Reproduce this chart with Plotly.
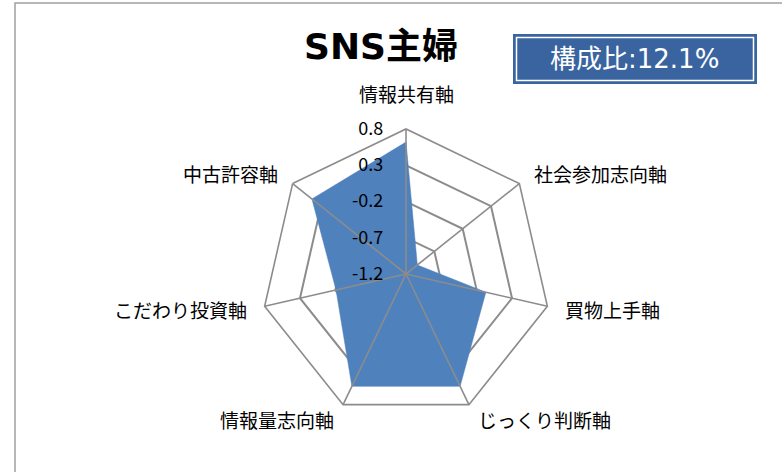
import math
import plotly.graph_objects as go

categories = ["情報共有軸", "社会参加志向軸", "買物上手軸", "じっくり判断軸",
              "情報量志向軸", "こだわり投資軸", "中古許容軸"]
values = [0.62, -1.0, -0.07, 0.52, 0.52, -0.21, 0.46]
radial_ticks = [-1.2, -0.7, -0.2, 0.3, 0.8]
title_text = "SNS主婦"
ratio_text = "構成比:12.1%"

W, H = 782, 472
FONT = "Noto Sans CJK JP"
WIDE = "DejaVu Sans, Noto Sans CJK JP"
GRID = "#8c8c8c"
FILL = "#4F81BD"
RMIN, RMAX = radial_ticks[0], radial_ticks[-1]

fig = go.Figure()
fig.add_trace(go.Scatterpolar(
    r=values + values[:1],
    theta=categories + categories[:1],
    mode="lines",
    fill="toself",
    fillcolor=FILL,
    line=dict(color=FILL, width=0.5),
    hoverinfo="skip",
))
# spokes from centre to each category vertex
spoke_r, spoke_t = [], []
for c in categories:
    spoke_r += [RMIN, RMAX, None]
    spoke_t += [c, c, None]
fig.add_trace(go.Scatterpolar(
    r=spoke_r, theta=spoke_t, mode="lines",
    line=dict(color=GRID, width=1.6), hoverinfo="skip", connectgaps=False,
))

cx, cy, R = 406, 274, 145

# category labels placed just outside each polygon vertex
annotations = []
n = len(categories)
for i, c in enumerate(categories):
    th = 2 * math.pi * i / n
    s, co = math.sin(th), math.cos(th)
    vx, vy = cx + R * s, cy - R * co
    if abs(s) < 0.01:
        px, py, xa, ya = vx, vy - 20, "center", "bottom"
    else:
        px, py = vx + 16 * s, vy - 16 * co
        xa, ya = ("left" if s > 0 else "right"), "middle"
    annotations.append(dict(
        text=c, xref="paper", yref="paper", x=px / W, y=1 - py / H,
        showarrow=False, xanchor=xa, yanchor=ya,
        font=dict(family=FONT, size=19, color="black")))

annotations += [
    dict(text="<b>" + title_text + "</b>", xref="paper", yref="paper", x=381 / W, y=(H - 47) / H,
         showarrow=False, xanchor="center", yanchor="middle",
         font=dict(family=WIDE, size=36, color="black")),
    dict(text=ratio_text, xref="paper", yref="paper", x=634 / W, y=(H - 59) / H,
         showarrow=False, xanchor="center", yanchor="middle",
         font=dict(family=WIDE, size=26, color="white")),
]

fig.update_layout(
    width=W, height=H,
    margin=dict(l=0, r=0, t=0, b=0),
    paper_bgcolor="white",
    showlegend=False,
    font=dict(family=FONT, size=17, color="black"),
    polar=dict(
        domain=dict(x=[(cx - R) / W, (cx + R) / W], y=[(H - cy - R) / H, (H - cy + R) / H]),
        bgcolor="rgba(0,0,0,0)",
        gridshape="linear",
        radialaxis=dict(
            range=[RMIN, RMAX],
            tickvals=radial_ticks,
            ticktext=[f"{v:.1f}" for v in radial_ticks],
            angle=90,
            tickangle=90,
            side="counterclockwise",
            showline=False,
            gridcolor=GRID,
            gridwidth=1.6,
            ticks="outside",
            ticklen=16,
            tickcolor="rgba(0,0,0,0)",
            tickfont=dict(family=FONT, size=18, color="black"),
            layer="above traces",
        ),
        angularaxis=dict(
            direction="clockwise",
            rotation=90,
            showline=True,
            linecolor=GRID,
            linewidth=1.6,
            showgrid=False,
            showticklabels=False,
            ticks="",
            layer="above traces",
        ),
    ),
    shapes=[
        dict(type="rect", xref="paper", yref="paper",
             x0=15 / W, x1=1.2, y0=-0.2, y1=(H - 3) / H,
             line=dict(color="#a0a0a0", width=1.5), fillcolor="rgba(0,0,0,0)"),
        dict(type="rect", xref="paper", yref="paper",
             x0=513 / W, x1=757 / W, y0=(H - 84) / H, y1=(H - 34) / H,
             line=dict(width=0), fillcolor="#3A64A0"),
        dict(type="rect", xref="paper", yref="paper",
             x0=516.5 / W, x1=753.5 / W, y0=(H - 80.5) / H, y1=(H - 37.5) / H,
             line=dict(color="white", width=1.5), fillcolor="rgba(0,0,0,0)"),
    ],
    annotations=annotations,
)

fig.write_html("out.html", config={"displayModeBar": False},
               post_script="document.body.style.margin='0px';")
